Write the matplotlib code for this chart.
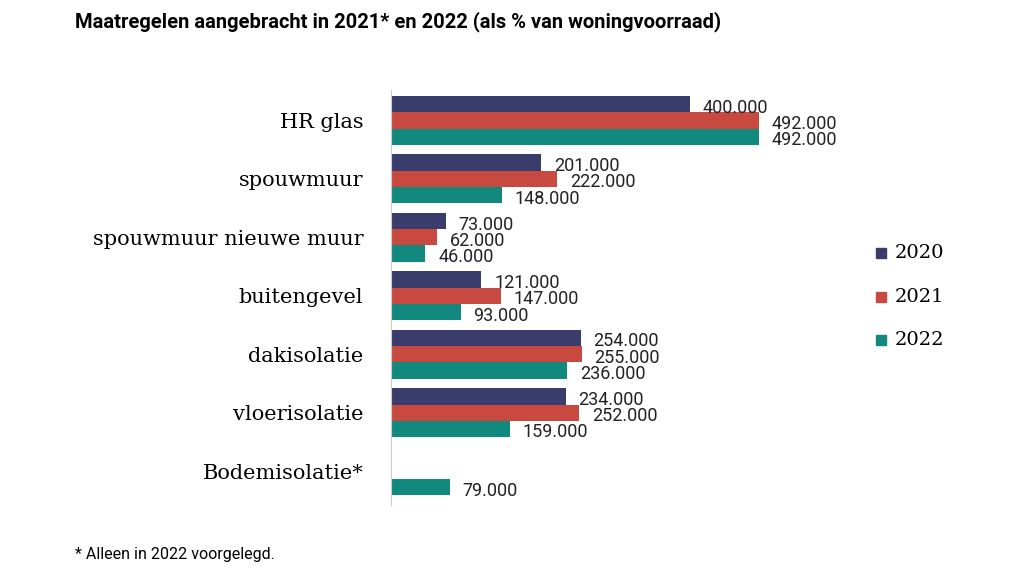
import matplotlib
matplotlib.use("Agg")
import matplotlib.pyplot as plt
import numpy as np

categories = ["HR glas", "spouwmuur", "spouwmuur nieuwe muur", "buitengevel",
              "dakisolatie", "vloerisolatie", "Bodemisolatie*"]
years = ["2020", "2021", "2022"]
v2020 = [400000, 201000, 73000, 121000, 254000, 234000, None]
v2021 = [492000, 222000, 62000, 147000, 255000, 252000, None]
v2022 = [492000, 148000, 46000, 93000, 236000, 159000, 79000]
colors = ["#3a3c6c", "#c8493f", "#12897e"]

W, H = 1030, 580
fig = plt.figure(figsize=(W/100, H/100), dpi=100)
ax = fig.add_axes([391/W, 1-505/H, 448/W, (505-90)/H])
xmax = 448/0.0007475
ax.set_xlim(0, xmax)
n = len(categories)
ax.set_ylim(n - 0.5 + 0.08, -0.5 - 0.02)
bh = 0.278
def fmt(v):
    return f"{v:,}".replace(",", ".")
for k, (vals, c) in enumerate(zip([v2020, v2021, v2022], colors)):
    for i, v in enumerate(vals):
        if v is None:
            continue
        y = i + (k-1)*bh
        ax.barh(y, v, height=bh, color=c)
        ax.text(v + 17000, y + 0.06, fmt(v), va="center", ha="left",
                fontsize=13, family="Roboto", color="#222")
ax.set_yticks(range(n))
ax.set_yticklabels(categories, family="DejaVu Serif", fontsize=15)
ax.tick_params(axis="y", length=0, pad=20)
ax.set_xticks([])
for s in ["top", "right", "bottom"]:
    ax.spines[s].set_visible(False)
ax.spines["left"].set_color("#cccccc")

for k, (yr, c) in enumerate(zip(years, colors)):
    yy = 1 - (253 + 43.5*k)/H
    fig.patches.append(plt.Rectangle((876/W, yy - 5/H), 10/W, 10/H, color=c,
                                     transform=fig.transFigure, figure=fig))
    fig.text(895/W, yy, yr, va="center", ha="left", family="DejaVu Serif", fontsize=14)

fig.text(75/W, 1-22/H, "Maatregelen aangebracht in 2021* en 2022 (als % van woningvoorraad)",
         fontsize=14.5, fontweight="bold", family="Roboto", va="center")
fig.text(75/W, 1-555/H, "* Alleen in 2022 voorgelegd.", fontsize=11.5, family="Roboto", va="center")
fig.savefig("out.png", dpi=100)
